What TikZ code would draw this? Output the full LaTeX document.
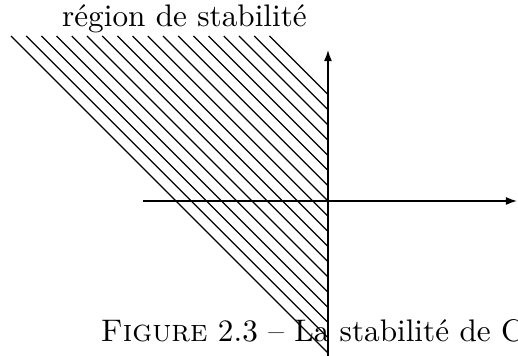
\documentclass[tikz,border=0pt]{standalone}
\usepackage{fontspec}
\usetikzlibrary{arrows.meta}
\begin{document}
\begin{tikzpicture}[x=0.3205pt,y=-0.3205pt,
  axis/.style={line width=0.45pt,-{Latex[length=3.6pt,width=2.6pt]}},
  hatch/.style={line width=0.4pt},
  lbl/.style={inner sep=0pt,anchor=base}]
\useasboundingbox (0,0) rectangle (518,356);
% hatching
\foreach \k in {0,...,17}{
  \draw[hatch] ({11+15.2*\k},36) -- (328,{353-15.2*\k});
}
% axes
\coordinate (ybot) at (328,356);
\coordinate (ytop) at (328,50);
\coordinate (xl) at (143,201);
\coordinate (xr) at (517,201);
\draw[axis] (ybot) -- (ytop);
\draw[axis] (xl) -- (xr);
% labels
\node[lbl] (title) at (184.5,27) {région de stabilité};
\node[lbl,anchor=base west] (cap) at (100,342) {\textsc{Figure} 2.3 – La stabilité de C};
\end{tikzpicture}
\end{document}
